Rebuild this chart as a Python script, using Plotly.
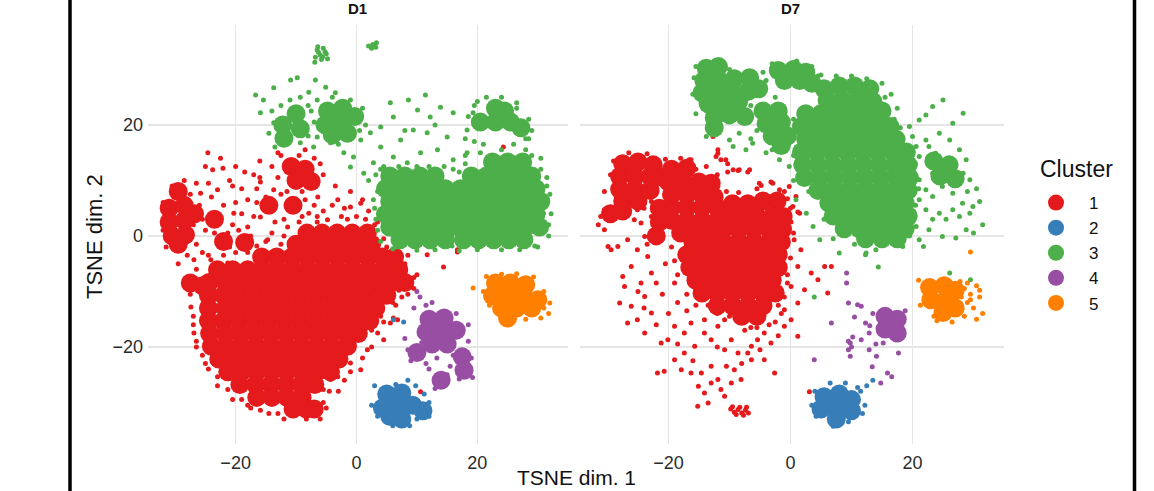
import plotly.graph_objects as go

# ---------------- data (TSNE coordinates) ----------------
CLUSTERS = ["1", "2", "3", "4", "5"]
COLORS = {"1": "#E41A1C", "2": "#377EB8", "3": "#4DAF4A", "4": "#984EA3", "5": "#FF7F00"}
PANELS = ["D1", "D7"]
TICKS = [-20, 0, 20]

# ---- D1 ----
D1_C1_CORE = [
    (-29.5, 8), (-31, 5), (-28.5, 5.5), (-26.8, 4), (-31, 2.5), (-28.5, 2.8), (-30.5, 0), (-28.3, 0.2), (-29.5, -1.5),
    (-27.5, -8.5), (-25.5, -9),
    (-10.8, 12.5), (-8.5, 12), (-10, 10), (-7.5, 9.8),
    (-10.5, 5.5), (-22, -1), (-23.5, 3), (-18.5, -1.2), (-14.5, 5.5),
    (-8.2, 0.5), (-5.7, 0.5), (-3.2, 0.5), (-0.7, 0.5), (1.8, 0.5),
    (-10, -1.5), (-7.5, -1.5), (-5, -1.5), (-2.5, -1.5), (0, -1.5), (2.5, -1.5),
    (-15.7, -3.8), (-13.2, -3.8), (-10.7, -3.8), (-8.2, -3.8), (-5.7, -3.8), (-3.2, -3.8), (-0.7, -3.8), (1.8, -3.8), (4.3, -3.8), (6.3, -3.8),
    (-23, -6.1), (-20.5, -6.1), (-18, -6.1), (-15.5, -6.1), (-13, -6.1), (-10.5, -6.1), (-8, -6.1), (-5.5, -6.1), (-3, -6.1), (-0.5, -6.1), (2, -6.1), (4.5, -6.1), (7, -6.1),
    (-24.4, -8.4), (-21.7, -8.4), (-19.2, -8.4), (-16.7, -8.4), (-14.2, -8.4), (-11.7, -8.4), (-9.2, -8.4), (-6.7, -8.4), (-4.2, -8.4), (-1.7, -8.4), (0.8, -8.4), (3.3, -8.4), (5.8, -8.4), (8.0, -8.4),
    (-24.5, -10.7), (-22, -10.7), (-19.5, -10.7), (-17, -10.7), (-14.5, -10.7), (-12, -10.7), (-9.5, -10.7), (-7, -10.7), (-4.5, -10.7), (-2, -10.7), (0.5, -10.7), (3, -10.7), (5, -10.7),
    (-24.5, -13), (-21.7, -13), (-19.2, -13), (-16.7, -13), (-14.2, -13), (-11.7, -13), (-9.2, -13), (-6.7, -13), (-4.2, -13), (-1.7, -13), (0.8, -13), (3.2, -13),
    (-24.5, -15.3), (-22, -15.3), (-19.5, -15.3), (-17, -15.3), (-14.5, -15.3), (-12, -15.3), (-9.5, -15.3), (-7, -15.3), (-4.5, -15.3), (-2, -15.3), (0.5, -15.3), (2.2, -15.3),
    (-24.3, -17.6), (-21.7, -17.6), (-19.2, -17.6), (-16.7, -17.6), (-14.2, -17.6), (-11.7, -17.6), (-9.2, -17.6), (-6.7, -17.6), (-4.2, -17.6), (-1.7, -17.6), (0.3, -17.6),
    (-24, -19.9), (-21.5, -19.9), (-19, -19.9), (-16.5, -19.9), (-14, -19.9), (-11.5, -19.9), (-9, -19.9), (-6.5, -19.9), (-4, -19.9), (-1.5, -19.9),
    (-22.8, -22.2), (-20.2, -22.2), (-17.7, -22.2), (-15.2, -22.2), (-12.7, -22.2), (-10.2, -22.2), (-7.7, -22.2), (-5.2, -22.2), (-2.9, -22.2),
    (-21.3, -24.5), (-19, -24.5), (-16.5, -24.5), (-14, -24.5), (-11.5, -24.5), (-9, -24.5), (-6.5, -24.5), (-4.3, -24.5),
    (-19.3, -26.8), (-16.7, -26.8), (-14.2, -26.8), (-11.7, -26.8), (-9.2, -26.8), (-6.9, -26.8),
    (-16.5, -29.1), (-14, -29.1), (-11.5, -29.1), (-9, -29.1),
    (-10.5, -31.2), (-8.3, -31.2), (-7, -31.2),
]
D1_C1_SPARSE = [
    (-24.6, 15), (-23.8, 11.9), (-22.1, 12.2), (-15.9, 9.7), (-18, 6.5), (-14.7, 4.7), (-7.9, 4.1), (-4.8, 2.9),
    (-1, 5.2), (0.7, 5.9), (2.8, 0.5), (-25.8, 7.7), (-23, 8.3), (-20.3, 4.1), (-10.4, 6.5), (-13.7, 8.3),
    (-6.4, 7), (-3.1, 6.5), (-15.9, 3.4), (-11.4, 1.6), (-18, 1.6), (-21.3, 0.5), (-14.7, -0.7), (-12.5, -1.5),
    (-16.5, -1.8), (-20, -3), (-24.5, -3.5), (-26.9, -4.3), (-24.1, -4.3), (-21.3, -4.9), (-28, -7.4), (-27.4, -12.8),
    (-26.9, -17.5), (-23, -25.4), (-21.3, -27.7), (-15.9, -31.4), (-13, -32), (5.6, -15.7), (6.8, -15.1), (1.8, -20.5),
    (-1, -22.9), (-3.1, -25.4), (0.7, -24.1), (-5.5, -27.7), (-4.3, -25.9), (4.5, -18.7), (2.5, -17), (4, -14.5),
    (6, -12), (8.5, -10.5), (9.5, -7.5), (8, -5), (5, -2), (4.5, -0.5), (3.5, 2.5), (16.7, 0.5), (24.3, 16),
    (26.6, 6.5), (10.9, 4.7), (30.9, 4.1), (23.8, 11.9), (16.7, -2.5), (11.7, -3.4), (14.4, -5.6), (16.7, -2.9),
    (6.1, -14.8), (10.6, -28.1), (-23, 2), (-25, 1), (-26, 5.5), (-24.5, 9.5), (-21, 10), (-19, 8.5), (-17, 11),
    (-12.5, 7.5), (-8.5, 6.5), (-5.5, 4.5), (-2.5, 3.5), (1.5, 3), (-13, 15), (-8.5, 15.5), (-6, 13), (-12.5, 14.5),
    (-28.5, 10), (-30.5, 9), (-32, 6), (-32, 1), (-26.5, -1.5), (-29.5, -5), (-27, -14.5), (-26.5, -20), (-25, -23),
    (-19, -29.5), (-17.5, -31), (-5.5, -30), (-3, -28), (-8.3, -33), (-2, -21), (-0.5, -19.5), (5.5, -10.5), (7, -9.8),
    (-26.5, -6), (-27.5, -10.5), (-27, -16), (-26.5, -19), (-25.5, -21.5), (-24.5, -24), (-23, -27), (-20.5, -29.5),
    (-18, -30.5), (-14.5, -32), (-12, -33), (-6, -33), (-5, -31), (-4.5, -28), (-2, -26), (-1, -24.5), (1, -22),
    (2.5, -20), (3.5, -17.5), (4.5, -15.5), (6.5, -12.5), (7.5, -11), (9.5, -9.5), (10, -7), (8.5, -3.5), (6.5, -1.5),
    (4.5, 1.5), (3, 2), (-9.5, 2.5), (-12, 0), (-15, -1), (-18, -3), (-22, -3.5), (-20, 12.5), (-16, 13.5),
    (-19.5, 1), (-16.5, 6), (-12, 3), (-6.5, 2.5), (-1.5, 3), (-27.5, 7.5), (-25.5, 3), (-28, -3.5), (-31.5, -2),
    (-25, 12.5), (-22.5, 14), (-20.5, 9), (-18.5, 11.5), (-16.5, 8.5), (-15, 7), (-13, 10.5), (-11.5, 8), (-9, 8),
    (-7, 5.5), (-4, 5.5), (-2, 5), (0, 3.5), (-20, 6), (-22, 5.5), (-24, 7), (-26.5, 9.5), (-20.5, 2), (-17, 3.5),
    (-13.5, 2.5), (-9, 3.5), (-6.5, 3.5), (-23.5, 0.5), (-27, 2), (-25.5, -3), (-21, -2), (-17.5, 0), (-14, 0.5),
    (-19, 4), (-16, 10.5), (-14, 12.5), (-9.5, 14.5), (-7, 14), (-5.5, 11), (-3.5, 9), (-1, 8), (1, 6.5), (2, 4.5),
]
D1_C2_CORE = [(5, -28.5), (7.5, -28.3), (4.3, -31), (6.8, -30.8), (9.3, -30.5), (11, -31.5), (7.5, -33), (5.5, -32.5)]
D1_C2_SPARSE = [
    (3, -27), (11.2, -28.5), (12, -30), (8.5, -26), (9.8, -27), (2.5, -30.5), (6, -34.2), (8.8, -34.2), (12, -32.5),
    (3.5, -32.5), (10, -33), (6.5, -26.8), (6.1, -15.1), (7.8, -15.5),
]
D1_C3_CORE = [
    (-10, 22), (-9.3, 19.3), (-12.2, 20), (-12, 17.6),
    (-4.8, 22.5), (-2.3, 23), (-0.3, 21.5), (-5.2, 20), (-2.7, 20.3), (-4, 18.2), (-1.5, 18.5),
    (23, 23), (20.5, 20.5), (23, 20.5), (25.5, 20.5), (27.2, 19.5), (24.5, 22.5),
    (22.5, 13.3), (25, 13.3), (27.5, 13.3),
    (5.5, 10.8), (8, 10.8), (10.5, 10.8), (13, 10.8), (19, 10.8), (21.5, 10.8), (24, 10.8), (26.5, 10.8), (29, 10.8),
    (4.8, 8.5), (7.2, 8.5), (9.7, 8.5), (12.2, 8.5), (14.7, 8.5), (17.2, 8.5), (19.7, 8.5), (22.2, 8.5), (24.7, 8.5), (27.2, 8.5), (29.7, 8.5),
    (5.5, 6.2), (8, 6.2), (10.5, 6.2), (13, 6.2), (15.5, 6.2), (18, 6.2), (20.5, 6.2), (23, 6.2), (25.5, 6.2), (28, 6.2), (30.5, 6.2),
    (4.8, 3.9), (7.2, 3.9), (9.7, 3.9), (12.2, 3.9), (14.7, 3.9), (17.2, 3.9), (19.7, 3.9), (22.2, 3.9), (24.7, 3.9), (27.2, 3.9), (29.7, 3.9),
    (5.5, 1.6), (8, 1.6), (10.5, 1.6), (13, 1.6), (15.5, 1.6), (18, 1.6), (20.5, 1.6), (23, 1.6), (25.5, 1.6), (28, 1.6), (30.3, 1.6),
    (7.2, -0.7), (9.7, -0.7), (12.2, -0.7), (14.7, -0.7), (17.7, -0.7), (20.2, -0.7), (22.7, -0.7), (25.2, -0.7), (27.7, -0.7),
]
D1_C3_SPARSE = [
    (2, 34.2), (2.7, 34.5), (3.3, 34.8), (2.5, 33.8), (3.2, 34),
    (-6.5, 33.5), (-5.5, 33.8), (-6, 32.6), (-5, 32.8), (-6.8, 32.2), (-5.8, 31.8), (-5.2, 33.2), (-6.3, 33.1),
    (-4.8, 31.9), (-6.9, 31.3), (-5.6, 32.3), (-6.4, 34.1),
    (-16.7, 25.4), (-15.4, 24.5), (-13.7, 26.7), (-10.9, 28.1), (-9.8, 28.5), (-6.8, 28.1), (-5.1, 26.8), (-3.5, 25.8),
    (-7.9, 25.9), (-9.3, 25), (-15.9, 22.2), (-13.7, 20.4), (-9.3, 16.8), (-7.1, 16), (-4.3, 16.8), (-2.1, 15),
    (-0.5, 14.2), (0.7, 17.3), (2.3, 18.6), (4, 19.6), (6.1, 21.4), (5.6, 24), (8.6, 24.5), (11.4, 25.4), (10.1, 22.7),
    (12.2, 21.4), (13.9, 23.2), (9.4, 19.1), (7.3, 17.3), (4, 16), (6.1, 14.2), (11.7, 18.6), (15, 17.8), (16, 22.2),
    (18.3, 19.1), (13.4, 15.5), (16, 13.7), (2.8, 13.2), (-1, 12.4), (1.2, 11.3), (19.3, 22.2), (18.3, 15), (8.4, 13.2),
    (10.6, 15), (4, 8.8), (2.8, 6.5), (30.4, 5.2), (31.6, 6.5), (3.5, 8), (3.2, 3), (4, -1), (6, -2.3), (31.8, 2),
    (31.5, 9), (30.5, 12), (29, 14.5), (18, 13), (16, 12), (14.5, 12.5), (12, 12.5), (15.8, -1.8), (29.5, -1.8),
    (4, 12), (2, 10), (-14.5, 18.5), (-8, 23.5), (-7, 20.5), (-11, 24.5), (20, 24.2), (26.5, 24), (28.5, 17.5),
    (19.5, 17), (21, 16.5), (26, 16.5), (8, 19), (13, 20), (-12.5, 23.5), (-6.5, 17.8),
    (3.2, 11), (4.5, 12.5), (7, 12.5), (10, 12.5), (14, 11), (17, 11.5), (18, 14.5), (20.5, 15), (24, 15.5),
    (28, 15.5), (30.5, 14), (31.5, 10.5), (32, 7.5), (32.2, 4), (31.8, 0), (30, -2), (27, -2.5), (24, -2.5),
    (20, -2.5), (17, -2.7), (13, -2.5), (10, -2.6), (6.5, -2), (3.5, 1), (3, 5), (18.5, 21.5), (19.5, 23.5),
    (21.5, 25), (24, 25), (26.5, 23), (28.5, 21), (29, 19), (28, 17.5), (18, 17.5), (-14, 22.5), (-13.5, 16),
    (-8, 18), (-7.5, 22.5), (-6.5, 24.5), (-4, 25), (-1, 24.5), (1, 23), (1.5, 20), (0.5, 19), (-3, 16.5),
]
D1_C4_CORE = [(12, -15), (14.5, -14.8), (11.5, -17.3), (14, -17.3), (16.5, -17), (12.5, -19.5), (15, -19.5),
              (17.5, -21.8), (17.8, -24.2), (10, -21), (14, -26)]
D1_C4_SPARSE = [
    (10.5, -11), (11.5, -12.5), (10, -10), (9.5, -13), (12.5, -12), (16.5, -14), (18.5, -16), (18.5, -19), (8, -18.5),
    (19, -22), (15.5, -23.5), (12, -24), (11.5, -23), (13, -27.5), (15, -25), (19.2, -25.5), (9, -22.5), (8.5, -20.5),
    (16, -21.5), (13.3, -22), (17, -25.8), (10.8, -19.2),
]
D1_C5_CORE = [(23, -8.5), (25.5, -8.5), (28, -8.8), (22.5, -10.8), (25, -10.8), (27.5, -10.8), (30, -11.5),
              (24, -13), (26.5, -13), (29, -13), (25, -14.8)]
D1_C5_SPARSE = [
    (19.3, -9.4), (21.5, -7.3), (29.3, -7.4), (32, -12.1), (31.8, -14), (30.5, -14.8), (28, -15), (22, -12.5),
    (21, -10), (26.5, -6.8), (24, -6.9), (31, -10), (31, -13),
]

# ---- D7 ----
D7_C1_CORE = [
    (-27.5, 13), (-25, 13.3), (-22.5, 12.8),
    (-28, 10.7), (-25.5, 10.7), (-23, 10.7), (-21, 10.5),
    (-28, 8.4), (-25.5, 8.4), (-23, 8.2),
    (-27.5, 6.3), (-25, 6.3),
    (-29.5, 4), (-27.5, 4.5),
    (-21.5, 5), (-21.5, 2.5), (-22, 0),
    (-19.5, 12), (-17, 12.2),
    (-20, 9.7), (-17.5, 9.7), (-15, 9.7), (-13, 9.5),
    (-19.5, 7.4), (-17, 7.4), (-14.5, 7.4), (-12.5, 7),
    (-19.5, 5.1), (-17, 5.1), (-14.5, 5.1), (-12, 5.1),
    (-19.5, 2.8), (-17, 2.8), (-14.5, 2.8), (-12, 2.8),
    (-18, 0.5), (-15.5, 0.5), (-13, 0.5),
    (-9.5, 5.8), (-7, 5.8), (-4.5, 6.3), (-2.2, 6.3),
    (-10.5, 3.5), (-8, 3.5), (-5.5, 3.5), (-3, 3.5), (-1.2, 3.5),
    (-11, 1.2), (-8.5, 1.2), (-6, 1.2), (-3.5, 1.2), (-1.3, 1.2),
    (-16, -1.1), (-13.5, -1.1), (-11, -1.1), (-8.5, -1.1), (-6, -1.1), (-3.5, -1.1), (-1.5, -1.1),
    (-17, -3.4), (-14.5, -3.4), (-12, -3.4), (-9.5, -3.4), (-7, -3.4), (-4.5, -3.4), (-2, -3.4),
    (-16.5, -5.7), (-14, -5.7), (-11.5, -5.7), (-9, -5.7), (-6.5, -5.7), (-4, -5.7), (-2, -5.7),
    (-15.5, -8), (-13, -8), (-10.5, -8), (-8, -8), (-5.5, -8), (-3, -8),
    (-14.5, -10.3), (-12, -10.3), (-9.5, -10.3), (-7, -10.3), (-4.5, -10.3), (-2.5, -10.3),
    (-12, -12.6), (-9.5, -12.6), (-7, -12.6), (-4.5, -12.6),
    (-8, -14.5), (-5.5, -14.5),
]
D7_C1_SPARSE = [
    (-29.9, -1.9), (-28.3, -1.9), (-26.7, -0.7), (-25.1, -2.5), (-26.1, -5.5), (-27.5, -7.3), (-27.2, -9.1),
    (-28.0, -12.1), (-26.1, -12.7), (-26.7, -15.7), (-25.1, -15.1), (-23.9, -17.5), (-22.8, -13.9), (-23.9, -10.9),
    (-24.5, -8.5), (-22.8, -6.7), (-23.4, -3.7), (-21.2, -19.3), (-20.1, -18.7), (-21.8, -24.7), (-20.7, -24.4),
    (-19.0, -22.3), (-17.9, -24.1), (-17.4, -21.1), (-15.7, -19.9), (-16.3, -24.7), (-14.6, -24.7), (-15.1, -27.1),
    (-14.1, -28.3), (-13.0, -23.5), (-11.9, -25.9), (-11.4, -27.7), (-10.8, -28.9), (-9.7, -26.5), (-9.2, -24.1),
    (-8.1, -25.9), (-7.0, -21.1), (-6.4, -19.9), (-6.4, -22.3), (-8.6, -21.1), (-10.8, -20.5), (-9.7, -18.7),
    (-13.0, -18.7), (-14.1, -17.5), (-17.4, -17.5), (-19.0, -16.3), (-16.3, -15.7), (-14.1, -15.1), (-11.9, -16.3),
    (-10.8, -15.1), (-4.3, -17.5), (-3.2, -19.3), (-2.6, -24.7), (-4.3, -22.3), (-5.4, -18.7), (-1.0, -16.3),
    (0.1, -15.1), (1.2, -18.1), (-1.0, -13.3), (1.2, -12.1), (2.3, -9.7), (3.4, -6.7), (4.5, -7.9), (5.6, -5.5),
    (6.7, -5.5), (6.1, -10.3), (0.1, -9.1), (1.2, -5.5), (0.6, -0.7), (1.7, -2.5), (0.1, 2.5), (1.2, 4.3),
    (-0.5, 6.7), (-3.2, 9.7), (-4.8, 9.1), (-7.0, 11.5), (-8.6, 11.8), (-10.3, 11.5), (-11.4, 13.7), (-11.9, 14.9),
    (-10.3, 13.0), (-16.3, 13.7), (-13.8, 12.5), (-14.1, 10.1), (-11.9, 8.9), (-13.0, 7.7), (-22.8, 3.5),
    (-24.5, 2.3), (-23.9, -0.1), (-29.4, -2.5), (-30.5, 1.1), (-30.5, 4.7), (-31.1, 3.5), (-22.8, 6.2), (-25.1, 4.7),
    (-25.6, 2.9), (-15.2, -30.7), (-13.5, -30.1), (-16.6, 13.7), (-12.2, 14.3), (-10.6, 13.7),
    (-9.4, 11.9), (-8.4, 11.9), (-6.7, 11.9), (-5.1, 9.5), (-2.9, 9.5), (-1.8, 8.3), (-0.2, 8.9), (0.9, 7.1),
    (0.4, 5.3), (1.5, 4.1), (-0.7, 2.9), (-12.7, 17.9), (-11.9, 15.5), (-19.5, -2), (-20.5, -5), (-19, -8.5),
    (-21, -10.5), (-18.5, -12), (-20, -14), (-17, -13.5), (3.1, -28.1), (-2, -12.5),
    (-1, -11), (-0.5, -7), (-1, -3), (-2.5, -15.5), (-5.5, -16.5), (-7.5, -17), (-12, -14), (-15.5, -12.5),
    (-30.5, 8), (-29.5, 11), (-29, 13.5), (-26.5, 15), (-23.5, 14.8), (-20.5, 13.8), (-18, 14), (-15.5, 12),
    (-12, 11), (-10.5, 8), (-8.5, 7.8), (-5.5, 8.5), (-1, 8), (0, 5), (0.5, 0.5), (0, -4), (-0.5, -8.5),
    (-1.5, -14), (-3.5, -16), (-6.5, -16.5), (-10, -14.5), (-13.5, -12.5), (-17, -10.5), (-18.5, -7),
    (-19, -4.5), (-23.5, -1.5), (-24, 5), (-31.5, 2), (-22, -8.5), (-25, -10), (-24, -13), (-22, -16),
    (-18.5, -19.5), (-16, -22.5), (-12, -20), (-8, -23), (-5, -20.5), (-2, -18), (-10.5, -23.5), (-13, -26.5),
    (-9.8, -31.2), (-9.2, -31.8), (-8.6, -31.3), (-8.0, -31.9), (-7.4, -31.4), (-6.9, -31.9), (-9.5, -30.8),
    (-8.3, -30.9), (-7.2, -30.9), (-8.9, -32.2), (-7.7, -32.3),
]
D7_C2_CORE = [(5.5, -29), (8, -28.5), (10, -29.5), (5, -31.2), (7.5, -31), (10, -31.5), (7.5, -33)]
D7_C2_SPARSE = [
    (4, -28), (11.5, -28), (12.5, -27), (13.5, -26), (9, -26.5), (7, -34.3), (3.5, -30.5), (11.8, -32), (6.5, -26.5),
    (11, -27.3), (4.2, -32.5), (9.5, -33.5), (12.2, -30.5),
]
D7_C3_CORE = [
    (-13.8, 30.2), (-11.8, 30.5),
    (-14.2, 28), (-11.7, 28), (-9.2, 28.3), (-6.7, 28.5),
    (-14.5, 25.8), (-12, 25.8), (-9.5, 25.8), (-7, 26), (-5.2, 26.5),
    (-13.5, 23.8), (-11, 24), (-8.5, 24.2),
    (-2, 29.8), (0.5, 30), (2.5, 29.5), (-1, 28), (1.5, 28), (3.5, 27.5),
    (5.5, 26.5), (8, 27), (10.5, 27), (13, 26.5), (6, 24.5), (8.5, 24.5), (11, 24.5), (13.5, 24.2), (15, 22.5),
    (-4.5, 22.5), (-2, 22.5), (-4, 20.2), (-1.5, 20.5), (-3, 18), (-0.5, 18), (-1.5, 16.3),
    (-12.5, 21.3), (-10, 21.8), (-7.5, 21.5), (-12.5, 19.5),
    (2.5, 22), (5, 22), (7.5, 22), (10, 22), (12.5, 22),
    (1.8, 19.7), (4.3, 19.7), (6.8, 19.7), (9.3, 19.7), (11.8, 19.7), (14.3, 19.7), (16.3, 19.7),
    (2.5, 17.4), (5, 17.4), (7.5, 17.4), (10, 17.4), (12.5, 17.4), (15, 17.4), (17.3, 17.4),
    (1.8, 15.1), (4.3, 15.1), (6.8, 15.1), (9.3, 15.1), (11.8, 15.1), (14.3, 15.1), (16.8, 15.1), (19, 15.1),
    (2, 12.8), (4.5, 12.8), (7, 12.8), (9.5, 12.8), (12, 12.8), (14.5, 12.8), (17, 12.8), (19.3, 12.8),
    (2.3, 10.5), (4.8, 10.5), (7.3, 10.5), (9.8, 10.5), (12.3, 10.5), (14.8, 10.5), (17.3, 10.5), (19.5, 10.5),
    (4.5, 8.2), (7, 8.2), (9.5, 8.2), (12, 8.2), (14.5, 8.2), (17, 8.2), (19.3, 8.2),
    (6.3, 5.9), (8.8, 5.9), (11.3, 5.9), (13.8, 5.9), (16.3, 5.9), (18.8, 5.9),
    (7, 3.6), (9.5, 3.6), (12, 3.6), (14.5, 3.6), (17, 3.6), (19.3, 3.6),
    (8.8, 1.3), (11.3, 1.3), (13.8, 1.3), (16.3, 1.3), (18.8, 1.3),
    (12.3, -0.5), (15, -0.5), (17.5, -0.5),
    (23.5, 13.5), (26, 12.8), (24.5, 10.8), (27, 10.3),
]
D7_C3_SPARSE = [
    (25.0, 24.5), (23.3, 23.3), (21.1, 20.9), (22.2, 21.8), (19.5, 19.7), (28.3, 22.1), (26.6, 20.3), (24.4, 18.5),
    (26.1, 17.3), (27.7, 15.5), (28.8, 13.7), (28.3, 11.3), (29.4, 10.1), (22.2, 17.3), (20.6, 16.1), (21.1, 14.3),
    (20.0, 17.9), (19.5, 11.3), (21.1, 10.1), (22.2, 8.3), (23.3, 7.1), (24.9, 8.9), (26.6, 7.7), (28.2, 5.9),
    (29.9, 5.3), (31.0, 6.2), (29.4, 4.1), (27.7, 3.5), (26.6, 4.7), (25.5, 3.0), (24.4, 4.1), (23.3, 3.0),
    (22.2, 4.7), (21.1, 6.5), (20.0, 4.1), (20.6, 1.7), (22.7, 1.1), (24.9, -0.1), (27.1, -0.4), (28.8, 1.1),
    (18.4, -1.9), (21.1, -0.7), (12.4, -3.1), (8.0, -3.1), (16.8, -0.7), (4.8, -0.7), (3.7, 1.7), (2.6, 4.1),
    (0.9, 6.5), (25.5, 13.7), (24.4, 12.5), (23.3, 11.3), (26.6, 12.5), (27.1, 10.1), (25.5, 10.1), (23.8, 14.9),
    (22.7, 16.1), (-9.4, 16.1), (-7.3, 15.5), (-6.2, 16.7), (-4.0, 15.0), (-1.8, 13.7), (-13.8, 17.9),
    (-12.2, 19.7), (-10.0, 17.3), (-0.2, 12.5), (-8.4, 18.5), (-15.5, 22), (-15.8, 28.5), (-6.5, 23.5),
    (-4, 28), (4.5, 28.8), (15.5, 25), (17, 21), (18, 19.5), (12.3, -3.4), (14.4, -5.6), (21.8, -1.9),
    (3.9, -11), (26.1, -6.7), (29.5, -7.9), (30.5, 8.5), (29, 8), (31.5, 2), (30, 0.5), (0.5, 14.5), (-2.5, 25),
    (-16, 25.5), (-15.5, 30.5), (-12.5, 31.5), (-10, 30), (-4.5, 29.5), (-3, 31), (1, 31.5), (3.5, 30.5),
    (5, 29), (7.5, 28.8), (10, 28.8), (12.5, 28.3), (15, 27.5), (16.5, 25.5), (17.5, 23), (20.5, 13),
    (21, 8.5), (20.5, 5.5), (20, 2.5), (19.5, 0), (14, -2.5), (10.5, -1.5), (7, -0.5), (5.5, 3), (3, 8),
    (0.5, 10), (0, 17), (0.5, 21), (-5.5, 19), (-6.5, 17.5), (-3, 15.5),
]
D7_C4_CORE = [(15.5, -14.5), (17.5, -15), (15.5, -16.8), (17.5, -17.5)]
D7_C4_SPARSE = [
    (9.5, -12.1), (11, -12.4), (10.5, -14.6), (12.3, -15.7), (12.9, -17.5), (11.6, -18.7), (9.8, -19.3), (9.5, -20.5),
    (9.8, -21.7), (12.9, -20.5), (14.1, -21.7), (13.4, -23.6), (15.9, -24.7), (16.6, -25.4), (14.8, -26.5),
    (15.2, -19.3), (17.2, -18.7), (17.7, -21.1), (9.2, -6.7), (9.2, -8.5), (11.6, -12.7), (3.9, -22.3),
    (6.7, -15.7), (9.5, -19), (10.2, -18.2), (10, -20), (13.5, -14), (14, -19.5), (18.8, -13.5), (13, -16.2),
]
D7_C5_CORE = [(22.8, -9.3), (25.2, -9), (27, -9.8), (23, -11.5), (25.5, -11.5), (25, -13.8), (27, -13)]
D7_C5_SPARSE = [
    (28.5, -9.5), (29.5, -10.5), (30.5, -9), (31, -11), (29, -12), (30, -13), (31.5, -14), (28.5, -14.5),
    (30.5, -15), (29.5, -11.5), (28, -11), (29.5, -2.9), (21, -8), (21.3, -12.5), (23.5, -14.5), (26.5, -15.5),
    (24, -15.3), (27.8, -8.2), (31, -9.8), (29, -8.5),
]

POINTS = {
    ("D1", "1"): (D1_C1_CORE, D1_C1_SPARSE), ("D1", "2"): (D1_C2_CORE, D1_C2_SPARSE),
    ("D1", "3"): (D1_C3_CORE, D1_C3_SPARSE), ("D1", "4"): (D1_C4_CORE, D1_C4_SPARSE),
    ("D1", "5"): (D1_C5_CORE, D1_C5_SPARSE),
    ("D7", "1"): (D7_C1_CORE, D7_C1_SPARSE), ("D7", "2"): (D7_C2_CORE, D7_C2_SPARSE),
    ("D7", "3"): (D7_C3_CORE, D7_C3_SPARSE), ("D7", "4"): (D7_C4_CORE, D7_C4_SPARSE),
    ("D7", "5"): (D7_C5_CORE, D7_C5_SPARSE),
}

# ---------------- figure ----------------
W, H = 1154, 491
PLOT_L, PLOT_R, PLOT_T, PLOT_B = 148, 1004, 25, 444   # pixels of the plotting region
PW = PLOT_R - PLOT_L
PH = PLOT_B - PLOT_T
ML, MT = PLOT_L, PLOT_T
MR, MB = W - ML - PW, H - MT - PH
FONT = "Liberation Sans, Arial, Helvetica, sans-serif"
CORE_SIZE = 19
SPARSE_SIZE = 5


def px_x(p):
    return (p - PLOT_L) / PW


def px_y(p):
    return 1 - (p - PLOT_T) / PH


fig = go.Figure()
axes = {"D1": ("x", "y"), "D7": ("x2", "y2")}
for panel in PANELS:
    xa, ya = axes[panel]
    for k, c in enumerate(CLUSTERS):
        core, sparse = POINTS[(panel, c)]
        for pts, size, kind in ((core, CORE_SIZE, "core"), (sparse, SPARSE_SIZE, "sparse")):
            show = panel == "D1" and kind == "core"
            fig.add_trace(go.Scatter(
                x=[p[0] for p in pts], y=[p[1] for p in pts], mode="markers",
                xaxis=xa, yaxis=ya, name=c, legendgroup=c, showlegend=show, legendrank=k + 1,
                marker=dict(color=COLORS[c], size=size, line=dict(width=0)),
                hoverinfo="skip",
            ))

XR = [-34.5, 35.0]
YR = [-37.5, 38.0]
TICKFONT = dict(family=FONT, size=18, color="#2B2B2B")
axis_common = dict(range=XR, tickvals=TICKS, showgrid=True, gridcolor="#E5E5E5", gridwidth=1.5,
                   zeroline=False, showline=False, ticks="", ticklabelstandoff=6,
                   tickfont=TICKFONT, fixedrange=True)
yaxis_common = dict(range=YR, tickvals=TICKS, showgrid=True, gridcolor="#E5E5E5", gridwidth=1.5,
                    zeroline=False, showline=False, ticks="", tickfont=TICKFONT, fixedrange=True)

fig.update_layout(
    width=W, height=H,
    margin=dict(l=ML, r=MR, t=MT, b=MB, autoexpand=False),
    paper_bgcolor="white", plot_bgcolor="white",
    xaxis=dict(domain=[0, px_x(568)], **axis_common),
    xaxis2=dict(domain=[px_x(580), 1.0], anchor="y2", **axis_common),
    yaxis=dict(domain=[0, 1], ticklabelstandoff=4, **yaxis_common),
    yaxis2=dict(domain=[0, 1], anchor="x2", showticklabels=False, **yaxis_common),
    legend=dict(
        font=dict(family=FONT, size=17, color="#111"),
        x=px_x(1023), y=px_y(185), xanchor="left", yanchor="top",
        tracegroupgap=0, itemwidth=56,
        bgcolor="rgba(0,0,0,0)", itemclick=False, itemdoubleclick=False,
    ),
    showlegend=True,
)

annos = [
    dict(text="<b>D1</b>", x=px_x(357), y=px_y(8.5), xanchor="center", yanchor="middle",
         font=dict(family=FONT, size=15, color="#111")),
    dict(text="<b>D7</b>", x=px_x(790), y=px_y(8.5), xanchor="center", yanchor="middle",
         font=dict(family=FONT, size=15, color="#111")),
    dict(text="TSNE dim. 2", x=px_x(95), y=px_y(237), xanchor="center", yanchor="middle", textangle=-90,
         font=dict(family=FONT, size=22, color="#111")),
    dict(text="TSNE dim. 1", x=px_x(576), y=px_y(478), xanchor="center", yanchor="middle",
         font=dict(family=FONT, size=21, color="#111")),
    dict(text="Cluster", x=px_x(1038), y=px_y(169), xanchor="left", yanchor="middle",
         font=dict(family=FONT, size=23, color="#111")),
]
for a in annos:
    a.update(xref="paper", yref="paper", showarrow=False)
fig.update_layout(annotations=annos)

for xp in (70, 1134.5):
    fig.add_shape(type="line", xref="paper", yref="paper", x0=px_x(xp), x1=px_x(xp),
                  y0=px_y(-10), y1=px_y(H + 20), line=dict(color="black", width=3.5))

# the page body gets no default margin, so the figure sits at the window's top-left corner
fig.write_html("out.html", config={"displayModeBar": False, "staticPlot": True},
               post_script="document.body.style.margin = '0px';")
